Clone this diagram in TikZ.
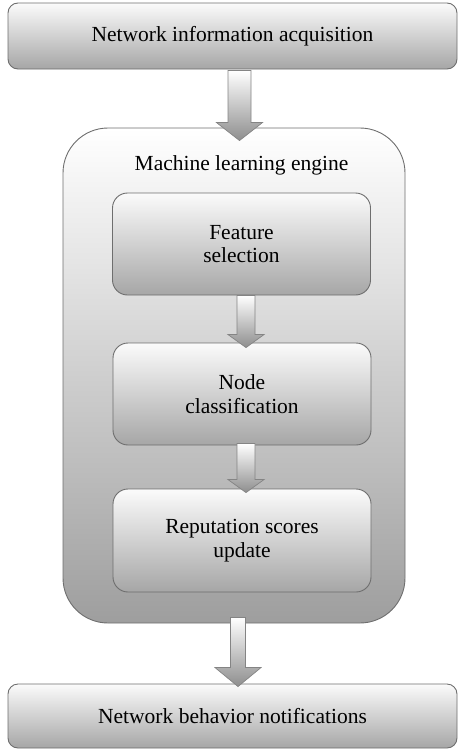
\documentclass[tikz,border=0pt]{standalone}
\usepackage{fontspec}
\setmainfont{Liberation Serif}
\usetikzlibrary{calc}
\definecolor{edgegray}{HTML}{6E6E6E}
\definecolor{boxbottom}{HTML}{A6A6A6}
\definecolor{boxtop}{HTML}{FBFBFB}
\definecolor{outerbottom}{HTML}{9E9E9E}
\definecolor{arrowbottom}{HTML}{8E8E8E}
\tikzset{
  barbox/.style={draw=edgegray, line width=0.9pt, rounded corners=10pt,
    top color=boxtop, bottom color=boxbottom, minimum width=449pt,
    inner sep=0pt, font=\fontsize{21.5}{24}\selectfont},
  outerbox/.style={draw=edgegray, line width=0.9pt, rounded corners=45pt,
    top color=white, bottom color=outerbottom, minimum width=342pt, minimum height=495pt,
    inner sep=0pt},
  innerbox/.style={draw=edgegray, line width=0.9pt, rounded corners=15pt,
    top color=boxtop, bottom color=boxbottom, minimum width=258pt,
    inner sep=0pt, align=center, font=\fontsize{21.5}{23.5}\selectfont},
  fatarrow/.style={draw=edgegray!85, line width=0.7pt, top color=white, bottom color=arrowbottom},
  titletext/.style={font=\fontsize{21.5}{24}\selectfont, inner sep=0pt}
}
% #1 from, #2 to, #3 x of centre, #4 shaft half, #5 head half,
% #6 head length (negative = upwards), #7 tip overlap, #8 start offset
\newcommand{\myfatarrow}[8]{%
  \path[fatarrow]
    ($(#1.south -| #3,0)+(-#4,#8)$) --
    ($(#2.north -| #3,0)+(-#4,#6+#7)$) --
    ($(#2.north -| #3,0)+(-#5,#6+#7)$) --
    ($(#2.north -| #3,0)+(0,#7)$) --
    ($(#2.north -| #3,0)+(#5,#6+#7)$) --
    ($(#2.north -| #3,0)+(#4,#6+#7)$) --
    ($(#1.south -| #3,0)+(#4,#8)$) -- cycle;}
\begin{document}
\begin{tikzpicture}[x=1pt,y=-1pt]
\useasboundingbox (0,0) rectangle (458,750);
\node[barbox, minimum height=66pt] (acq) at (232.5,36) {Network information acquisition};
\node[outerbox] (engine) at (234,375.5) {};
\node[titletext] (title) at (241.5,165) {Machine learning engine};
\node[innerbox, minimum height=102pt] (feat) at (241.5,244) {Feature\\selection};
\node[innerbox, minimum height=102pt] (cls) at (242,394) {Node\\classification};
\node[innerbox, minimum height=103pt] (rep) at (242,540.5) {Reputation scores\\update};
\node[barbox, minimum height=64pt] (notif) at (232.5,716) {Network behavior notifications};
\myfatarrow{acq}{engine}{239.5}{11.5}{23}{-18}{13}{1}
\myfatarrow{feat}{cls}{246}{9}{18}{-13}{5}{0}
\myfatarrow{cls}{rep}{246}{9}{18}{-13}{4}{-2}
\myfatarrow{engine}{notif}{238}{7.5}{23}{-19}{3}{-6}
\end{tikzpicture}
\end{document}
